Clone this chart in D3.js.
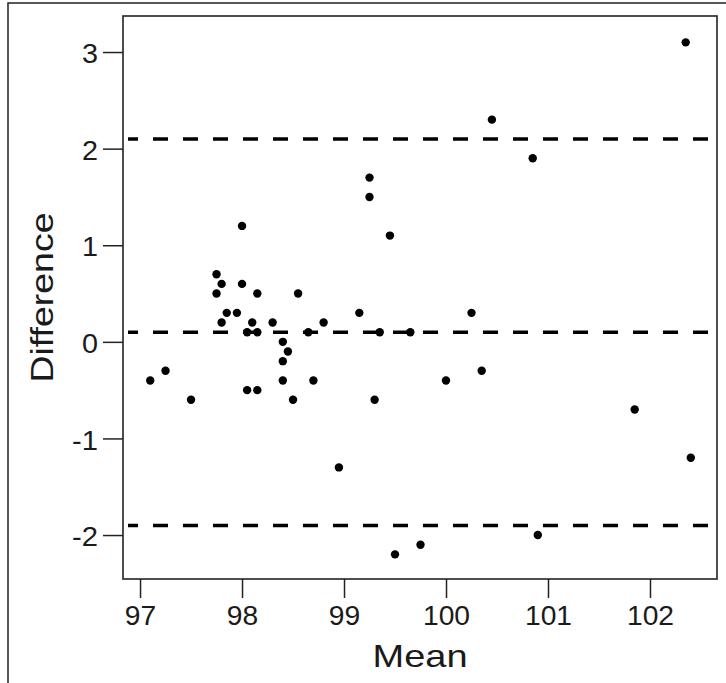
<!DOCTYPE html>
<html>
<head>
<meta charset="utf-8">
<script src="https://cdn.jsdelivr.net/npm/d3@7"></script>
<style>
  body { margin: 0; background: #fff; }
  svg { display: block; }
  text { font-family: "Liberation Sans", Arial, sans-serif; fill: #1a1a1a; }
</style>
</head>
<body>
<script>
// Bland-Altman style: mean vs difference
const means = [97.10, 97.25, 97.50, 97.75, 97.75, 97.80, 97.80, 97.85, 97.95, 98.00,
               98.00, 98.05, 98.05, 98.10, 98.15, 98.15, 98.15, 98.30, 98.40, 98.40,
               98.40, 98.45, 98.50, 98.55, 98.65, 98.70, 98.80, 98.95, 99.15, 99.25,
               99.25, 99.30, 99.35, 99.45, 99.50, 99.65, 99.75, 100.00, 100.25, 100.35,
               100.45, 100.85, 100.90, 101.85, 102.35, 102.40];
const diffs = [-0.4, -0.3, -0.6, 0.7, 0.5, 0.6, 0.2, 0.3, 0.3, 1.2,
               0.6, 0.1, -0.5, 0.2, 0.5, 0.1, -0.5, 0.2, 0.0, -0.2,
               -0.4, -0.1, -0.6, 0.5, 0.1, -0.4, 0.2, -1.3, 0.3, 1.7,
               1.5, -0.6, 0.1, 1.1, -2.2, 0.1, -2.1, -0.4, 0.3, -0.3,
               2.3, 1.9, -2.0, -0.7, 3.1, -1.2];
const refLines = [2.1, 0.1, -1.9];   // upper limit, mean diff, lower limit
const xTicks = [97, 98, 99, 100, 101, 102];
const yTicks = [-2, -1, 0, 1, 2, 3];

const W = 726, H = 683;
const box = {left: 123, right: 717, top: 16, bottom: 579};

const svg = d3.select("body").append("svg")
  .attr("width", W)
  .attr("height", H);

// outer frame (runs off right and bottom edges)
svg.append("rect")
  .attr("x", 8).attr("y", 3)
  .attr("width", W + 10).attr("height", H + 10)
  .attr("fill", "none")
  .attr("stroke", "#222")
  .attr("stroke-width", 1.5);

const x = d3.scaleLinear()
  .domain([96.833, 102.657])
  .range([box.left, box.right]);

const y = d3.scaleLinear()
  .domain([-2.455, 3.373])
  .range([box.bottom, box.top]);

// plain hyphen for negatives, like the original
const fmt = d => String(d);

// x axis
const gx = svg.append("g")
  .attr("transform", "translate(0," + box.bottom + ")")
  .call(d3.axisBottom(x).tickValues(xTicks).tickFormat(fmt)
    .tickSize(19).tickPadding(8));
gx.select(".domain").remove();
gx.selectAll(".tick line").attr("stroke", "#222").attr("stroke-width", 1.5);
gx.selectAll(".tick text").style("font-size", "27px")
  .attr("textLength", d => String(d).length * 15.7)
  .attr("lengthAdjust", "spacingAndGlyphs");

// y axis
const gy = svg.append("g")
  .attr("transform", "translate(" + box.left + ",0)")
  .call(d3.axisLeft(y).tickValues(yTicks).tickFormat(fmt)
    .tickSize(20).tickPadding(5));
gy.select(".domain").remove();
gy.selectAll(".tick line").attr("stroke", "#222").attr("stroke-width", 1.5);
gy.selectAll(".tick text").style("font-size", "28px").attr("dy", "0.38em")
  .attr("textLength", d => d < 0 ? 26 : 16)
  .attr("lengthAdjust", "spacingAndGlyphs");

// plot box
svg.append("rect")
  .attr("x", box.left).attr("y", box.top)
  .attr("width", box.right - box.left)
  .attr("height", box.bottom - box.top)
  .attr("fill", "none")
  .attr("stroke", "#222")
  .attr("stroke-width", 1.6);

// reference lines
svg.selectAll("line.ref")
  .data(refLines)
  .enter().append("line")
  .attr("class", "ref")
  .attr("x1", box.left + 5).attr("x2", box.right - 6)
  .attr("y1", d => y(d)).attr("y2", d => y(d))
  .attr("stroke", "#000")
  .attr("stroke-width", 3.5)
  .attr("stroke-dasharray", "10,15,15,15,15,15,15,15,15,15,15,15,15,15,15,15,15,15,15,15,15,15,15,15,15,15,15,15,15,15,15,15,15,15,15,15,15,15,15,15,15");

// points
svg.selectAll("circle")
  .data(means.map((m, i) => [m, diffs[i]]))
  .enter().append("circle")
  .attr("cx", d => x(d[0]))
  .attr("cy", d => y(d[1]))
  .attr("r", 4.2)
  .attr("fill", "#000");

// axis titles
svg.append("text")
  .attr("x", (box.left + box.right) / 2)
  .attr("y", 667)
  .attr("text-anchor", "middle")
  .attr("textLength", 95)
  .attr("lengthAdjust", "spacingAndGlyphs")
  .style("font-size", "32px")
  .text("Mean");

svg.append("text")
  .attr("transform", "translate(53," + ((box.top + box.bottom) / 2) + ") rotate(-90)")
  .attr("text-anchor", "middle")
  .attr("textLength", 170)
  .attr("lengthAdjust", "spacingAndGlyphs")
  .style("font-size", "31px")
  .text("Difference");
</script>
</body>
</html>
